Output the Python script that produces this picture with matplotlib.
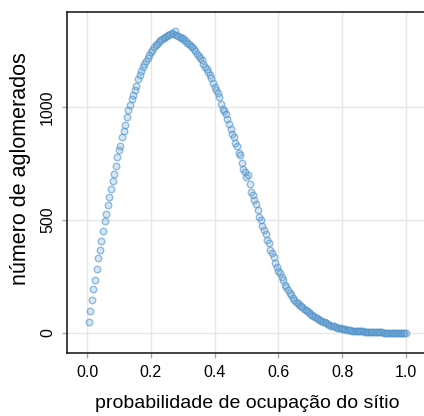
import matplotlib
matplotlib.use("Agg")
import matplotlib.pyplot as plt
import numpy as np

# probabilidade de ocupação (passo 0.005) e número de aglomerados
prob = np.arange(1, 201) * 0.005
aglomerados = [
    50, 99, 147, 193, 236, 283, 330, 365, 408, 452,
    494, 525, 566, 600, 637, 672, 705, 740, 780, 808,
    826, 866, 892, 922, 955, 985, 1010, 1033, 1053, 1075,
    1092, 1124, 1140, 1157, 1176, 1190, 1205, 1218, 1230, 1243,
    1252, 1263, 1272, 1280, 1288, 1295, 1302, 1307, 1311, 1315,
    1319, 1322, 1325, 1322, 1334, 1318, 1314, 1310, 1307, 1304,
    1298, 1291, 1285, 1278, 1271, 1263, 1255, 1246, 1236, 1226,
    1216, 1207, 1188, 1178, 1169, 1156, 1143, 1128, 1108, 1088,
    1074, 1060, 1043, 1012, 993, 980, 968, 945, 925, 902,
    882, 866, 840, 826, 797, 786, 752, 726, 713, 690,
    698, 660, 622, 612, 587, 569, 542, 514, 502, 472,
    455, 436, 412, 398, 368, 352, 335, 310, 292, 276,
    264, 249, 234, 214, 205, 192, 179, 169, 157, 148,
    139, 132, 126, 120, 113, 107, 101, 97, 91, 86,
    80, 74, 69, 65, 61, 58, 54, 50, 47, 43,
    39, 36, 33, 31, 29, 26, 24, 22, 20, 18,
    17, 16, 15, 13, 12, 11, 10, 10, 9, 8,
    8, 7, 7, 6, 6, 5, 5, 5, 4, 4,
    4, 3, 3, 3, 3, 2, 2, 2, 2, 2,
    2, 1, 1, 1, 1, 1, 1, 1, 1, 1,
]
xticks = [0.0, 0.2, 0.4, 0.6, 0.8, 1.0]
yticks = [0, 500, 1000]

plt.rcParams['font.family'] = ['Liberation Sans', 'DejaVu Sans']

fig = plt.figure(figsize=(4.24, 4.16), dpi=100)
ax = fig.add_axes([67 / 424, 63 / 416, 361 / 424, 341 / 416])

ax.scatter(prob, aglomerados, s=22, facecolor=(0.42, 0.64, 0.84, 0.26),
           edgecolor=(0.30, 0.57, 0.79, 0.58), linewidth=1.0, zorder=3)

ax.set_xlim(-0.0627, 1.069)
ax.set_ylim(-88.5, 1420)
ax.set_xticks(xticks)
ax.set_xticklabels([f"{t:.1f}" for t in xticks])
ax.set_yticks(yticks)
ax.set_yticklabels([str(t) for t in yticks], rotation=90, va='center')

# grade clara
ax.grid(True, color='#e6e6e6', linewidth=1.0, zorder=0)
ax.set_axisbelow(True)

ax.spines['right'].set_visible(False)
for s in ['left', 'top', 'bottom']:
    ax.spines[s].set_linewidth(1.2)
    ax.spines[s].set_color('#222222')

ax.tick_params(axis='both', length=3.5, width=1.0, color='#aaaaaa',
               labelsize=11.5, pad=5)

ax.set_xlabel('probabilidade de ocupação do sítio', fontsize=14, labelpad=11)
ax.set_ylabel('número de aglomerados', fontsize=15.5)
ax.yaxis.set_label_coords(-0.10, 0.54)

fig.savefig('out.png', dpi=100)
